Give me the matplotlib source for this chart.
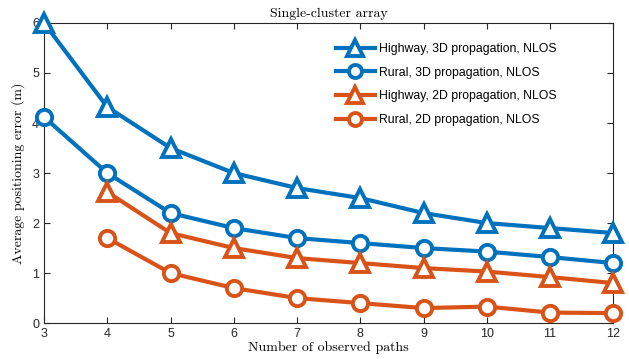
import matplotlib
matplotlib.use("Agg")
import matplotlib.pyplot as plt

BLUE = "#0072BD"
ORANGE = "#D95319"

paths_3d = [3, 4, 5, 6, 7, 8, 9, 10, 11, 12]
paths_2d = [4, 5, 6, 7, 8, 9, 10, 11, 12]
highway_3d = [6.0, 4.32, 3.5, 3.0, 2.7, 2.5, 2.2, 2.0, 1.9, 1.8]
rural_3d = [4.12, 3.0, 2.2, 1.9, 1.7, 1.6, 1.5, 1.43, 1.32, 1.2]
highway_2d = [2.62, 1.8, 1.5, 1.3, 1.2, 1.1, 1.03, 0.92, 0.8]
rural_2d = [1.7, 1.0, 0.7, 0.5, 0.4, 0.3, 0.33, 0.21, 0.2]

SERIF = ["cmr10", "DejaVu Serif"]
plt.rcParams.update({
    "font.family": ["Liberation Sans", "DejaVu Sans"],
    "axes.unicode_minus": False,
    "xtick.direction": "in",
    "ytick.direction": "in",
    "xtick.top": True,
    "ytick.right": True,
})

fig = plt.figure(figsize=(6.29, 3.59), dpi=100)
ax = fig.add_axes([0.070, 0.100, 0.905, 0.836])

series = [
    (paths_3d, highway_3d, BLUE, "^", 13, "Highway, 3D propagation, NLOS"),
    (paths_3d, rural_3d, BLUE, "o", 11, "Rural, 3D propagation, NLOS"),
    (paths_2d, highway_2d, ORANGE, "^", 13, "Highway, 2D propagation, NLOS"),
    (paths_2d, rural_2d, ORANGE, "o", 11, "Rural, 2D propagation, NLOS"),
]
for xs, ys, c, m, ms, lab in series:
    ax.plot(xs, ys, color=c, lw=3, marker=m, ms=ms, mfc="white", mec=c,
            mew=2.8, label=lab, clip_on=False, zorder=3)

ax.set_xlim(3, 12)
ax.set_ylim(0, 6)
ax.set_xticks(range(3, 13))
ax.set_yticks(range(0, 7))
ax.tick_params(labelsize=9, colors="#262626", length=4, width=0.8)
for s in ax.spines.values():
    s.set_linewidth(0.8)
    s.set_color("#262626")

ax.set_title("Single-cluster array", family=SERIF, fontsize=10, pad=4)
ax.set_xlabel("Number of observed paths", family=SERIF, fontsize=10, labelpad=1)
ax.set_ylabel("Average positioning error (m)", family=SERIF, fontsize=10, labelpad=5)

ax.legend(loc="upper right", bbox_to_anchor=(0.92, 0.97), frameon=False,
          fontsize=8.8, handlelength=3.2, labelspacing=0.95, handletextpad=0.35,
          markerscale=0.85)

fig.savefig("out.png", dpi=100)
